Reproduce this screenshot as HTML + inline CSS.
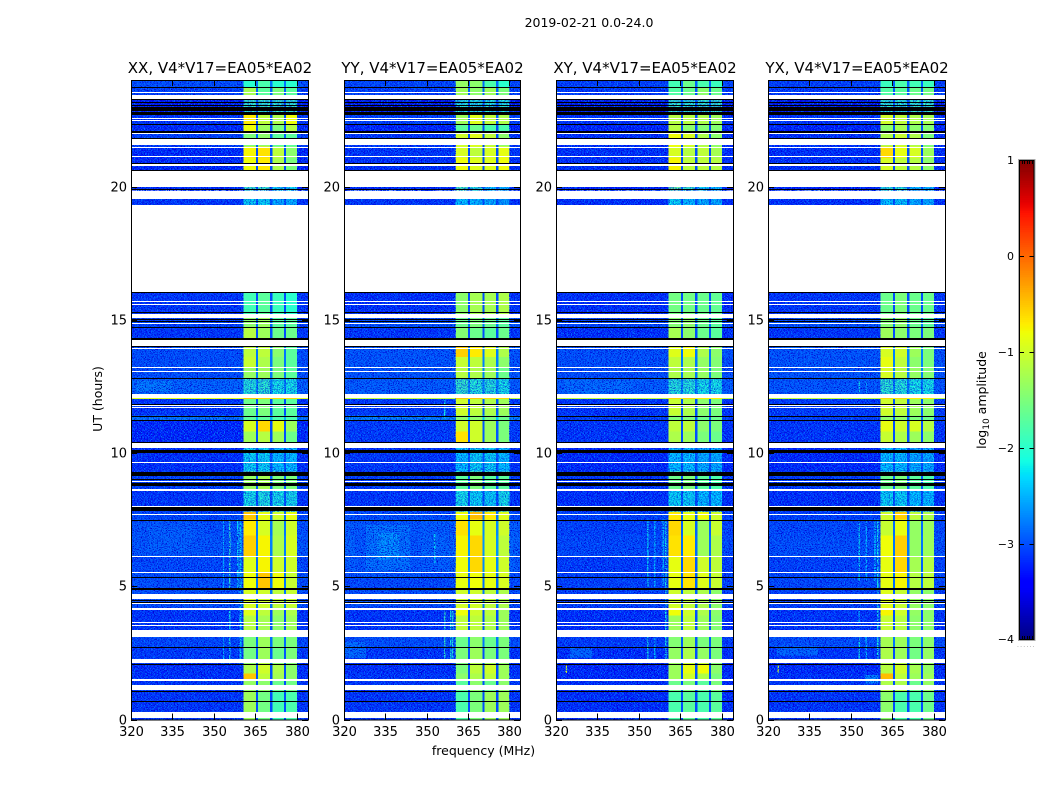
<!DOCTYPE html>
<html lang="en">
<head>
<meta charset="utf-8">
<title>2019-02-21 0.0-24.0 amplitude spectrogram</title>
<style>
html,body{margin:0;padding:0;background:#fff;width:1050px;height:800px;overflow:hidden}
svg{display:block}
text{font-family:"DejaVu Sans","Liberation Sans",sans-serif;fill:#000}
</style>
</head>
<body>
<svg id="figure" width="1050" height="800" viewBox="0 0 1050 800" xmlns="http://www.w3.org/2000/svg">
  <defs>
    <filter id="speckle" x="0" y="0" width="100%" height="100%" color-interpolation-filters="sRGB">
      <feTurbulence type="fractalNoise" baseFrequency="0.7 1" numOctaves="2" seed="7" result="t1"/>
      <feColorMatrix in="t1" type="matrix" values="0 0 0 0 0  0 0 0 0 0.45  0 0 0 0 1  7 0 0 0 -3.45" result="light"/>
      <feTurbulence type="fractalNoise" baseFrequency="0.75 0.95" numOctaves="2" seed="23" result="t2"/>
      <feColorMatrix in="t2" type="matrix" values="0 0 0 0 0  0 0 0 0 0  0 0 0 0 0.82  7 0 0 0 -3.45" result="dark"/>
      <feMerge><feMergeNode in="dark"/><feMergeNode in="light"/></feMerge>
    </filter>
  </defs>
  <text x="589" y="27" font-size="12.5" text-anchor="middle">2019-02-21 0.0-24.0</text>
  <text x="483.5" y="755" font-size="12.5" text-anchor="middle">frequency (MHz)</text>
  <text x="102" y="399" font-size="12.5" text-anchor="middle" transform="rotate(-90 102 399)">UT (hours)</text>
  <g id="panels"></g>
  <g id="colorbar"></g>
  <text x="986" y="400" font-size="12.5" text-anchor="middle" transform="rotate(-90 986 400)">log<tspan font-size="9" dy="3">10</tspan><tspan dy="-3"> amplitude</tspan></text>
  <text x="1017" y="647" font-size="6" letter-spacing="1.2" style="fill:#888">......</text>
</svg>
<script>
const panelNames = ['XX', 'YY', 'XY', 'YX'];
const baselineLabel = 'V4*V17=EA05*EA02';
const xTickValues = [320, 335, 350, 365, 380];
const yTickValues = [0, 5, 10, 15, 20];
const colorbarTickValues = [1, 0, -1, -2, -3, -4];
const colorbarTickLabels = ['1', '0', '\u22121', '\u22122', '\u22123', '\u22124'];

// UT segment edges (hours); each panel below has one level row per segment.
const utEdges = [0,1.04,1.5,1.72,2.1,2.7,3.1,3.9,4.2,4.9,5.5,6.1,6.9,7.5,7.8,8.6,9.3,10.2,10.8,11.24,11.4,12.03,12.1,12.8,13.2,13.6,14,14.7,15.07,16.05,19.3,19.55,19.85,20,20.6,21.07,21.5,22,22.35,22.7,23.25,23.72,24];

// Frequency columns (MHz): background, window, gap, window, gap, window, gap, window, background.
const freqEdges = [320,360.6,365.15,365.9,370.35,371.1,375.35,376.1,380.1,384];

// log10 amplitude per segment: [background, window 1, window 2, window 3, window 4].
const xxLevels = [[-3.2,-1.3,-1.55,-1.85,-1.8],[-3.2,-1.35,-1.4,-1.6,-1.55],[-3.25,-0.5,-1.1,-1.25,-1.4],[-3.25,-1.2,-1,-1.2,-1.4],[-3.15,-1.55,-1.3,-1.6,-1.5],[-3.05,-1.5,-1.3,-1.5,-1.5],[-3.2,-1.15,-1.25,-1.4,-1.3],[-3.2,-0.9,-1.1,-1.3,-1.2],[-3,-0.95,-1,-1.1,-1.05],[-3,-0.8,-0.5,-0.8,-1.05],[-3.05,-0.9,-0.75,-1,-1],[-2.95,-0.55,-0.75,-1.2,-0.95],[-3,-0.7,-0.95,-1.25,-1],[-3.05,-0.5,-0.85,-1,-0.85],[-3.2,-2.1,-2.05,-2.1,-2.1],[-3.1,-1.35,-1.25,-1.5,-1.5],[-3.25,-2.2,-2.2,-2.3,-2.3],[-3.3,-1.3,-1.15,-1.3,-1.6],[-3.3,-0.95,-0.6,-0.85,-1.3],[-2.7,-1.7,-1.7,-1.8,-1.8],[-3.2,-1.6,-1.5,-1.7,-1.7],[-0.9,-0.5,-0.6,-0.6,-0.6],[-2.85,-2,-1.95,-2.1,-2.1],[-3,-1.35,-1.3,-1.5,-1.7],[-3,-1.05,-1.2,-1.5,-1.7],[-3,-1.1,-1.1,-1.4,-1.7],[-3.2,-1.15,-1.3,-1.6,-1.6],[-3.1,-1.4,-1.3,-1.7,-1.7],[-3.2,-1.85,-1.7,-1.9,-2],null,[-3.2,-2.2,-2.2,-2.4,-2.4],null,[-3.3,-1.9,-1.9,-2.2,-2.2],null,[-3.3,-0.8,-0.7,-1.2,-1.5],[-3.3,-0.75,-0.65,-1.1,-1.4],[-3.1,-1.5,-1.4,-1.7,-1.7],[-3.3,-0.8,-1.3,-1.5,-1.15],[-3.2,-0.7,-1.1,-1.2,-0.8],[-3.55,-1.9,-1.9,-1.9,-1.9],[-3.1,-1.25,-1.7,-1.5,-1.7],[-3,-2,-1.8,-2,-2]];
const yyLevels = [[-3.2,-1.8,-1.5,-1.3,-1.3],[-3.2,-1.7,-1.4,-1.6,-1.4],[-3.2,-1.4,-1.2,-1.1,-1.3],[-3.25,-1.5,-1.1,-1,-1.3],[-3.2,-1.5,-1.3,-1.5,-1.5],[-3,-1.6,-1.4,-1.6,-1.5],[-3.2,-1.1,-1.1,-1.2,-1.3],[-3.2,-0.8,-1,-1.1,-1.3],[-3,-1,-1,-1.1,-1.2],[-3.05,-0.85,-0.8,-0.85,-0.95],[-2.9,-0.8,-0.6,-0.85,-1],[-2.85,-0.75,-0.6,-0.95,-1.1],[-2.9,-0.65,-0.85,-0.95,-1],[-3,-0.8,-0.45,-0.7,-0.9],[-3.2,-2.1,-2.2,-2.2,-2.1],[-3.15,-1.7,-1.5,-1.7,-1.7],[-3.2,-2.3,-2.2,-2.2,-2.3],[-3.15,-0.65,-1,-1.3,-1.5],[-3.15,-1,-1,-1.3,-1.5],[-2.6,-1.4,-1.4,-1.5,-1.6],[-3.15,-1,-1.1,-1.2,-1.3],[-1.1,-0.5,-0.5,-0.6,-0.6],[-2.9,-1.9,-2,-2,-2.1],[-2.95,-1.15,-1.2,-1.3,-1.6],[-2.95,-1.05,-1.1,-1.2,-1.4],[-2.95,-0.55,-0.7,-0.9,-1.2],[-3.2,-1.45,-1.6,-1.7,-1.6],[-3,-1.6,-1.5,-1.6,-1.7],[-3.25,-1.4,-1.25,-1.25,-1.2],null,[-3.2,-2.3,-2.35,-2.35,-2.5],null,[-3.3,-1.8,-2,-2.3,-2.4],null,[-3.25,-0.8,-0.9,-0.9,-0.8],[-3.2,-0.95,-1.1,-0.95,-0.85],[-3.2,-1,-0.9,-1.1,-1.4],[-3.35,-1.7,-1.6,-1.8,-1.8],[-3.1,-1.3,-0.9,-1.1,-1.2],[-3.6,-2,-2,-2,-2],[-3.1,-1.3,-1.4,-1.3,-1.5],[-3.05,-1.35,-1.4,-1.8,-2]];
const xyLevels = [[-3.25,-1.8,-1.7,-1.8,-1.7],[-3.25,-1.6,-1.5,-1.7,-1.5],[-3.3,-1.3,-1,-1.2,-1.5],[-3.3,-1.3,-0.85,-0.8,-1.4],[-3.25,-1.35,-1.2,-1.35,-1.5],[-3.15,-1.45,-1.3,-1.5,-1.5],[-3.25,-1.3,-1.1,-1.3,-1.45],[-3.25,-0.8,-1,-1.2,-1.4],[-3.1,-1,-1.1,-1.2,-1.4],[-3.1,-0.85,-0.65,-0.9,-1.05],[-3.15,-0.85,-0.6,-1,-1.1],[-3.05,-0.65,-0.7,-1.3,-1.2],[-3.1,-0.6,-0.95,-1.3,-1.05],[-3.1,-0.7,-0.85,-0.8,-1],[-3.25,-2.2,-2.2,-2.3,-2.3],[-3.2,-1.6,-1.5,-1.7,-1.8],[-3.3,-2.3,-2.3,-2.4,-2.4],[-3.2,-1.2,-1.3,-1.5,-1.6],[-3.2,-1.1,-1.1,-1.4,-1.5],[-3.1,-1.5,-1.5,-1.6,-1.6],[-3.2,-1.05,-1.2,-1.4,-1.5],[-1.1,-0.6,-0.6,-0.7,-0.7],[-2.9,-2,-2,-2.1,-2.1],[-3,-1.2,-1.25,-1.35,-1.5],[-3,-1.1,-1.2,-1.35,-1.45],[-3,-0.9,-0.8,-1.2,-1.4],[-3.25,-1.25,-1.4,-1.6,-1.7],[-3.05,-1.45,-1.4,-1.6,-1.7],[-3.25,-1.55,-1.55,-1.6,-1.65],null,[-3.25,-2.2,-2.3,-2.4,-2.4],null,[-3.35,-1.6,-1.9,-2.2,-2.3],null,[-3.25,-0.75,-1.1,-1.1,-1.15],[-3.25,-0.95,-1.15,-1.1,-1.25],[-3.25,-0.8,-0.95,-1.2,-1.4],[-3.35,-1.15,-1.4,-1.45,-1.45],[-3.2,-1.15,-1.15,-1.2,-1.3],[-3.6,-1.9,-1.95,-1.9,-1.9],[-3.15,-1.75,-1.6,-1.4,-1.6],[-3.1,-1.85,-1.6,-1.8,-1.9]];
const yxLevels = [[-3.2,-1.4,-1.8,-1.8,-1.6],[-3.2,-1.2,-1.2,-1.6,-1.35],[-3.25,-0.45,-1.1,-1.3,-1.3],[-3.3,-1.15,-1,-1.25,-1.35],[-3.2,-1.2,-1.3,-1.55,-1.35],[-3,-1.25,-1.3,-1.5,-1.4],[-3.2,-1.05,-1.15,-1.4,-1.4],[-3.2,-0.75,-1,-1.35,-1.4],[-3.1,-0.9,-1.05,-1.35,-1.4],[-3.05,-0.85,-0.75,-1.15,-1.1],[-3.1,-0.85,-0.6,-1.25,-1.15],[-3,-0.8,-0.55,-1.35,-1.3],[-3.05,-1.05,-0.85,-1.35,-1.3],[-3.1,-1,-0.55,-1.1,-1.2],[-3.25,-2.2,-2.2,-2.3,-2.3],[-3.15,-1.6,-1.5,-1.7,-1.8],[-3.3,-2.3,-2.3,-2.4,-2.4],[-3.2,-1.05,-1.2,-1.3,-1.4],[-3.2,-0.85,-1,-0.95,-1.15],[-3.1,-1.4,-1.4,-1.5,-1.6],[-3.15,-1,-1.1,-1.3,-1.4],[-1.1,-0.6,-0.6,-0.7,-0.7],[-2.95,-1.95,-2,-2.1,-2.1],[-2.95,-0.95,-1.15,-1.35,-1.45],[-2.95,-0.85,-1.1,-1.4,-1.5],[-2.95,-0.95,-1,-1.3,-1.5],[-3.2,-1.3,-1.4,-1.5,-1.5],[-3,-1.45,-1.4,-1.6,-1.7],[-3.2,-1.6,-1.5,-1.6,-1.6],null,[-3.25,-2.3,-2.25,-2.4,-2.4],null,[-3.35,-2,-2,-2.3,-2.3],null,[-3.25,-0.95,-1.1,-1.15,-1.4],[-3.25,-0.6,-0.85,-0.95,-1.3],[-3.25,-1.2,-1.05,-1.2,-1.5],[-3.35,-1.4,-1.25,-1.4,-1.45],[-3.2,-1,-1.1,-1.2,-1.25],[-3.6,-1.95,-1.95,-1.9,-1.9],[-3.15,-1.75,-1.7,-1.6,-1.55],[-3.1,-1.9,-1.8,-1.85,-1.9]];

// Narrow and diffuse features: [freq start, freq end, UT start, UT end, log10 amplitude].
const xxFeatures = [[322,346,6.1,7.4,-2.95],[326,342,6.3,7.2,-2.88],[353.2,353.7,4.9,7.5,-2.3],[355.5,356,4.9,7.5,-1.9],[358.3,358.9,4.9,7.5,-2.2],[359.3,360,2.1,7.5,-2.2],[353.2,353.7,2.1,3.1,-2.3],[355.5,356,2.1,4.2,-2.1],[322,335,12.3,12.7,-2.7]];
const yyFeatures = [[324,348,5.3,7.5,-2.95],[328,344,5.6,7.3,-2.75],[332,340,6,7,-2.55],[320,328,2.3,2.9,-2.8],[356.4,356.9,2.2,4.1,-1.9],[358.5,359,2.2,4.1,-2.1],[359.3,359.8,2.2,4.1,-2],[356.4,356.9,11.3,12,-2.1],[352.8,353.2,5.9,7,-2.2]];
const xyFeatures = [[352.9,353.4,5,7.5,-2.2],[355.5,356,5,7.5,-2.4],[358.5,359,5,7.5,-2.3],[359.4,360,2.2,7.5,-2.1],[352.9,353.4,2.2,3.1,-2.1],[355.5,356,2.2,3.1,-2.4],[323.5,324,1.75,2.02,-0.9],[325,333,2.3,2.7,-2.85],[323,347,12.2,12.75,-2.8]];
const yxFeatures = [[352.8,353.3,5.2,7.5,-2.2],[355.3,355.8,5.2,7.5,-2.4],[358.4,359,5.2,7.5,-2.4],[359.4,360,2.2,7.5,-2.1],[352.8,353.3,2.2,3.1,-2.1],[355.3,355.8,2.2,3.1,-2.3],[352.8,353.3,3.6,4.1,-2.4],[352.8,353.3,12.25,12.7,-2.1],[355.3,355.8,12.25,12.7,-2.5],[323.5,324,1.75,2.02,-0.9],[355,360,1.35,1.67,-2.6],[323,338,2.4,2.75,-2.85]];

// UT ranges where the spectral windows look speckled rather than smooth.
const speckledWindowRanges = [[7.8,8.6],[9.3,10.2],[12.1,12.8],[19.3,19.55],[19.85,20],[22.7,23.25]];

// Flagged time ranges (UT hours) shared by all correlations.
const whiteBands = [[0.06,0.28],[1.1,1.31],[1.44,1.51],[2.12,2.28],[3.1,3.36],[3.53,3.56],[3.63,3.67],[4.12,4.18],[4.32,4.36],[4.52,4.71],[5.5,5.54],[6.08,6.12],[7.69,7.73],[7.98,8.02],[8.59,8.66],[8.9,8.94],[9.63,9.67],[10.2,10.39],[11.68,11.72],[11.76,11.8],[12.08,12.22],[13.05,13.09],[13.2,13.24],[13.92,13.96],[14,14.24],[14.85,14.89],[15.07,15.23],[15.57,15.61],[15.66,15.7],[16.05,19.3],[19.54,19.84],[19.98,20.58],[20.79,20.83],[21.1,21.14],[21.45,21.49],[21.56,21.77],[21.97,22.01],[22.47,22.51],[22.54,22.58],[23.28,23.45],[23.52,23.55]];
const blackBands = [[0.65,0.68],[1.04,1.08],[2.07,2.1],[2.68,2.72],[4.37,4.4],[4.43,4.48],[4.86,4.92],[5.31,5.35],[7.46,7.5],[7.81,7.96],[8.76,8.89],[9,9.04],[9.14,9.29],[9.99,10.11],[10.39,10.41],[11.2,11.24],[11.36,11.4],[11.8,11.84],[12.79,12.83],[13.97,14],[14.25,14.31],[14.7,14.74],[14.92,14.95],[15,15.03],[15.27,15.31],[15.99,16.05],[19.86,19.9],[20.59,20.62],[20.84,20.87],[21.77,21.81],[22.02,22.08],[22.31,22.34],[22.69,22.81],[22.85,22.98],[23.05,23.08],[23.14,23.17],[23.25,23.28],[23.72,23.75]];

const panelLevels = [xxLevels, yyLevels, xyLevels, yxLevels];
const panelFeatures = [xxFeatures, yyFeatures, xyFeatures, yxFeatures];

const SVG_NS = 'http://www.w3.org/2000/svg';
const PANEL_LEFTS = [131, 344, 556, 768], PANEL_WIDTHS = [177, 176, 177, 177];
const PANEL_TOP = 80, PANEL_BOTTOM = 719.5;
const X_MIN = 320, X_MAX = 384, Y_MIN = 0, Y_MAX = 24, V_MIN = -4, V_MAX = 1;
const CB_X = 1019, CB_W = 15.5, CB_TOP = 160, CB_BOTTOM = 640;

let panelWidth = 177;

function make(tag, attrs, parent) {
  const el = document.createElementNS(SVG_NS, tag);
  for (const k in attrs) el.setAttribute(k, attrs[k]);
  parent.appendChild(el);
  return el;
}
function xScale(left, f) { return left + (f - X_MIN) / (X_MAX - X_MIN) * panelWidth; }
function yScale(h) { return PANEL_BOTTOM - (h - Y_MIN) / (Y_MAX - Y_MIN) * (PANEL_BOTTOM - PANEL_TOP); }
function ramp(t, pts) {
  for (let i = 1; i < pts.length; i++) {
    if (t <= pts[i][0]) {
      const a = pts[i - 1], b = pts[i];
      return a[1] + (b[1] - a[1]) * (t - a[0]) / (b[0] - a[0]);
    }
  }
  return pts[pts.length - 1][1];
}
function jet(v) {
  const t = Math.max(0, Math.min(1, (v - V_MIN) / (V_MAX - V_MIN)));
  const r = ramp(t, [[0,0],[0.35,0],[0.66,1],[0.89,1],[1,0.5]]);
  const g = ramp(t, [[0,0],[0.125,0],[0.375,1],[0.64,1],[0.91,0],[1,0]]);
  const b = ramp(t, [[0,0.5],[0.11,1],[0.34,1],[0.65,0],[1,0]]);
  return 'rgb(' + Math.round(r * 255) + ',' + Math.round(g * 255) + ',' + Math.round(b * 255) + ')';
}

function drawCell(group, left, f0, f1, h0, h1, v) {
  const y0 = yScale(h1), y1 = yScale(h0), x0 = xScale(left, f0), x1 = xScale(left, f1);
  const el = make('rect', {x: x0, y: y0, width: x1 - x0, height: y1 - y0, fill: jet(v), 'shape-rendering': 'crispEdges'}, group);
  
  
}
function drawBand(group, left, band, color) {
  const y0 = Math.round(yScale(band[1])), y1 = Math.round(yScale(band[0]));
  const el = make('rect', {x: left, y: y0, width: panelWidth, height: Math.max(1, y1 - y0), fill: color, 'shape-rendering': 'crispEdges'}, group);
  
  
}
function drawNoise(group, x0, x1, y0, y1, opacity) {
  const el = make('rect', {x: x0, y: y0, width: x1 - x0, height: y1 - y0, fill: '#000', filter: 'url(#speckle)', opacity: opacity}, group);
  
  
}

const panelsRoot = document.getElementById('panels');
panelNames.forEach(function (name, p) {
  const left = PANEL_LEFTS[p];
  panelWidth = PANEL_WIDTHS[p];
  const lowerName = name.toLowerCase();
  const g = make('g', {}, panelsRoot);
  
  

  const levels = panelLevels[p];
  levels.forEach(function (row, s) {
    if (!row) return;
    const h0 = utEdges[s], h1 = utEdges[s + 1];
    const bg = row[0];
    const gap = Math.max(bg + 0.2, -3);
    drawCell(g, left, freqEdges[0], freqEdges[1], h0, h1, bg);
    drawCell(g, left, freqEdges[1], freqEdges[2], h0, h1, row[1]);
    drawCell(g, left, freqEdges[2], freqEdges[3], h0, h1, gap);
    drawCell(g, left, freqEdges[3], freqEdges[4], h0, h1, row[2]);
    drawCell(g, left, freqEdges[4], freqEdges[5], h0, h1, gap);
    drawCell(g, left, freqEdges[5], freqEdges[6], h0, h1, row[3]);
    drawCell(g, left, freqEdges[6], freqEdges[7], h0, h1, gap);
    drawCell(g, left, freqEdges[7], freqEdges[8], h0, h1, row[4]);
    drawCell(g, left, freqEdges[8], freqEdges[9], h0, h1, bg);
  });

  panelFeatures[p].forEach(function (f) {
    drawCell(g, left, f[0], f[1], f[2], f[3], f[4]);
  });

  drawNoise(g, left, xScale(left, freqEdges[1]), PANEL_TOP, PANEL_BOTTOM, 1);
  drawNoise(g, xScale(left, freqEdges[8]), xScale(left, X_MAX), PANEL_TOP, PANEL_BOTTOM, 1);
  speckledWindowRanges.forEach(function (r) {
    drawNoise(g, xScale(left, freqEdges[1]), xScale(left, freqEdges[8]), yScale(r[1]), yScale(r[0]), 0.7);
  });

  // Bright interference rows sit above the noise texture.
  levels.forEach(function (row, s) {
    if (row && row[0] > -2) {
      drawCell(g, left, freqEdges[0], freqEdges[1], utEdges[s], utEdges[s + 1], row[0]);
      drawCell(g, left, freqEdges[8], freqEdges[9], utEdges[s], utEdges[s + 1], row[0]);
    }
  });

  whiteBands.forEach(function (b) { drawBand(g, left, b, '#fff'); });
  blackBands.forEach(function (b) { drawBand(g, left, b, '#000'); });

  const frame = make('rect', {x: left + 0.5, y: PANEL_TOP + 0.5, width: panelWidth, height: PANEL_BOTTOM - PANEL_TOP, fill: 'none', stroke: '#000', 'stroke-width': 1, 'shape-rendering': 'crispEdges'}, g);
  
  

  const title = make('text', {x: left + panelWidth / 2 + 0.5, y: 73, 'font-size': 15, 'text-anchor': 'middle'}, g);
  
  
  title.textContent = name + ', ' + baselineLabel;

  xTickValues.forEach(function (tv) {
    const x = Math.round(xScale(left, tv)) + 0.5;
    const bottom = make('line', {x1: x, x2: x, y1: PANEL_BOTTOM, y2: PANEL_BOTTOM - 6, stroke: '#000', 'shape-rendering': 'crispEdges'}, g);
    
    
    const top = make('line', {x1: x, x2: x, y1: PANEL_TOP, y2: PANEL_TOP + 6, stroke: '#000', 'shape-rendering': 'crispEdges'}, g);
    
    
    const label = make('text', {x: x, y: 736, 'font-size': 13, 'text-anchor': 'middle'}, g);
    
    
    label.textContent = String(tv);
  });
  yTickValues.forEach(function (tv) {
    const y = Math.round(yScale(tv)) + 0.5;
    const l = make('line', {x1: left, x2: left + 6, y1: y, y2: y, stroke: '#000', 'shape-rendering': 'crispEdges'}, g);
    
    
    const r = make('line', {x1: left + panelWidth, x2: left + panelWidth - 6, y1: y, y2: y, stroke: '#000', 'shape-rendering': 'crispEdges'}, g);
    
    
    const label = make('text', {x: left - 4, y: y + 4, 'font-size': 13, 'text-anchor': 'end'}, g);
    
    
    label.textContent = String(tv);
  });
});

// Colorbar
const cbRoot = document.getElementById('colorbar');
function cbScale(v) { return CB_BOTTOM - (v - V_MIN) / (V_MAX - V_MIN) * (CB_BOTTOM - CB_TOP); }
const cbSteps = 256;
for (let i = 0; i < cbSteps; i++) {
  const v0 = V_MIN + (V_MAX - V_MIN) * i / cbSteps;
  const v1 = V_MIN + (V_MAX - V_MIN) * (i + 1) / cbSteps;
  const seg = make('rect', {x: CB_X, y: cbScale(v1), width: CB_W, height: cbScale(v0) - cbScale(v1) + 0.6, fill: jet((v0 + v1) / 2), 'shape-rendering': 'crispEdges'}, cbRoot);
  
  
}
const cbOuter = make('rect', {x: CB_X - 0.5, y: CB_TOP - 0.5, width: CB_W + 1, height: CB_BOTTOM - CB_TOP + 1, fill: 'none', stroke: '#aaa', 'stroke-width': 1}, cbRoot);


const cbFrame = make('rect', {x: CB_X + 0.5, y: CB_TOP + 0.5, width: CB_W - 1, height: CB_BOTTOM - CB_TOP - 1, fill: 'none', stroke: '#000', 'stroke-width': 1}, cbRoot);


colorbarTickValues.forEach(function (tv, i) {
  const y = Math.round(cbScale(tv)) + 0.5;
  const yy = Math.max(CB_TOP + 0.5, Math.min(CB_BOTTOM - 0.5, y));
  const l = make('line', {x1: CB_X, x2: CB_X + 5, y1: yy, y2: yy, stroke: '#000', 'shape-rendering': 'crispEdges'}, cbRoot);
  
  
  const r = make('line', {x1: CB_X + CB_W - 5, x2: CB_X + CB_W, y1: yy, y2: yy, stroke: '#000', 'shape-rendering': 'crispEdges'}, cbRoot);
  
  
  const label = make('text', {x: CB_X - 5, y: yy + 3.5, 'font-size': 11, 'text-anchor': 'end'}, cbRoot);
  
  
  label.textContent = colorbarTickLabels[i];
});
for (let i = 1; i <= 5; i++) {
  const x = Math.round(CB_X + i * CB_W / 6) + 0.5;
  const t = make('line', {x1: x, x2: x, y1: CB_TOP, y2: CB_TOP + 4, stroke: '#000', 'shape-rendering': 'crispEdges'}, cbRoot);
  
  
  const b = make('line', {x1: x, x2: x, y1: CB_BOTTOM, y2: CB_BOTTOM - 4, stroke: '#000', 'shape-rendering': 'crispEdges'}, cbRoot);
  
  
}
</script>
</body>
</html>
